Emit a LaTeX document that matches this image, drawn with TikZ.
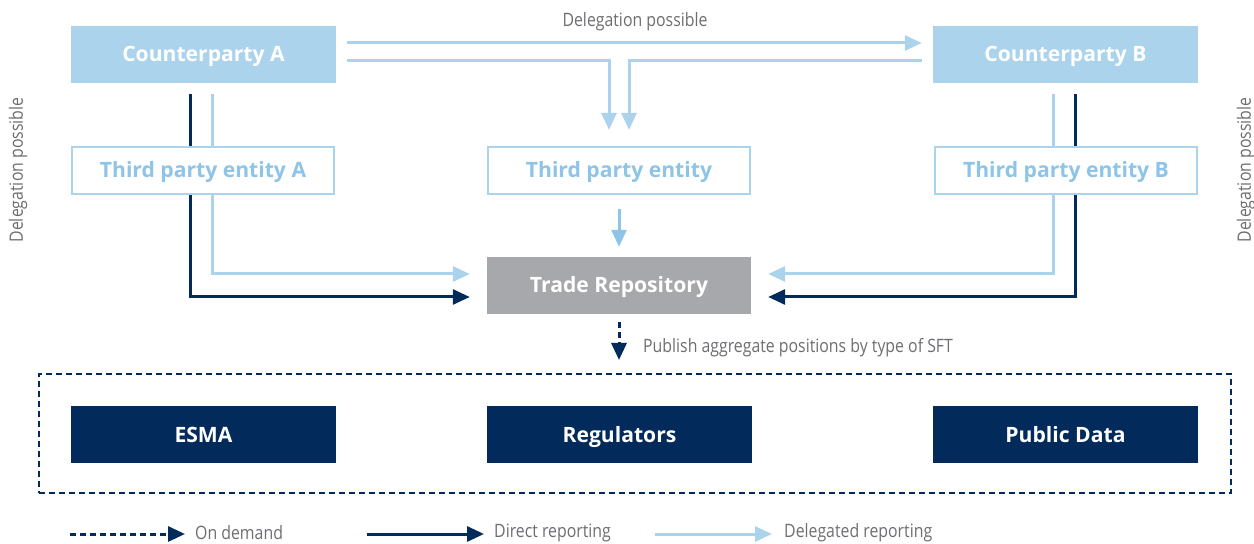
\documentclass[tikz,border=0pt]{standalone}
\usepackage{fontspec}
\setmainfont{Open Sans}
\newfontfamily\cond{Open Sans}[FakeStretch=0.86]
\usetikzlibrary{arrows.meta,backgrounds}
\definecolor{lblue}{HTML}{ABD3EC}
\definecolor{tblue}{HTML}{8DC4E7}
\definecolor{navy}{HTML}{022B5C}
\definecolor{trgray}{HTML}{A7A8AB}
\definecolor{lbl}{HTML}{6D6E71}
\tikzset{
  boxfont/.style={font=\fontsize{21.2}{25}\selectfont\bfseries, text height=15bp, text depth=0bp},
  cpbox/.style={fill=lblue, draw=none, minimum width=265bp, minimum height=57bp, inner sep=0pt, text=white, boxfont},
  tpbox/.style={fill=white, draw=lblue, line width=2.2bp, minimum width=262bp, minimum height=47bp, inner sep=0pt, text=tblue, boxfont},
  trbox/.style={fill=trgray, draw=none, minimum width=264bp, minimum height=57bp, inner sep=0pt, text=white, boxfont},
  navybox/.style={fill=navy, draw=none, minimum width=265bp, minimum height=57bp, inner sep=0pt, text=white, boxfont},
  frame/.style={draw=navy, line width=2bp, dash pattern=on 6bp off 4bp, minimum width=1192bp, minimum height=119bp, inner sep=0pt},
  lab/.style={text=lbl, font=\cond\fontsize{18.5}{22}\selectfont, inner sep=0pt},
  deleg/.style={draw=lblue, line width=3bp, -{Triangle[length=17bp,width=15bp]}},
  delegc/.style={draw=tblue, line width=3bp, -{Triangle[length=17bp,width=15bp]}},
  direct/.style={draw=navy, line width=3bp, -{Triangle[length=17bp,width=15bp]}},
  ondemand/.style={draw=navy, line width=3bp, dash pattern=on 6bp off 4bp, -{Triangle[length=17bp,width=15bp]}},
}
\begin{document}
\begin{tikzpicture}[x=1bp,y=-1bp]
\useasboundingbox (0,0) rectangle (1254,544);
% nodes
\node[cpbox] (ca) at (203.5,54.5) {Counterparty A};
\node[cpbox] (cb) at (1065.5,54.5) {Counterparty B};
\node[tpbox] (tpa) at (203,170.5) {Third party entity A};
\node[tpbox] (tpe) at (619,170.5) {Third party entity};
\node[tpbox] (tpb) at (1066,170.5) {Third party entity B};
\node[trbox] (tr) at (619,285.5) {Trade Repository};
\node[frame] (fr) at (635,433.5) {};
\node[navybox] (esma) at (203.5,434.5) {ESMA};
\node[navybox] (reg) at (619.5,434.5) {Regulators};
\node[navybox] (pub) at (1065.5,434.5) {Public Data};
% labels
\node[lab] (dtop) at (635,22) {Delegation possible};
\node[lab, rotate=90] (dleft) at (18,170) {Delegation possible};
\node[lab, rotate=90] (dright) at (1246,170) {Delegation possible};
\node[lab, anchor=west] (pubtxt) at (643,348) {Publish aggregate positions by type of SFT};
% connector start points
\coordinate (aD) at (190,94);
\coordinate (aL) at (212,94);
\coordinate (bL) at (1053,94);
\coordinate (bD) at (1075,94);
\begin{scope}[on background layer]
\draw[direct, shorten >=17bp] (aD) |- ([yshift=-11.5bp]tr.west);
\draw[deleg, shorten >=17bp]  (aL) |- ([yshift=11.5bp]tr.west);
\draw[deleg, shorten >=17bp]  (bL) |- ([yshift=11.5bp]tr.east);
\draw[direct, shorten >=17bp] (bD) |- ([yshift=-11.5bp]tr.east);
\end{scope}
\draw[deleg, shorten <=11bp, shorten >=11bp] ([yshift=11.5bp]ca.east) -- ([yshift=11.5bp]ca.east -| cb.west);
\draw[deleg, shorten <=11bp, shorten >=16bp] ([yshift=-6.5bp]ca.east) -| ([xshift=-10bp]tpe.north);
\draw[deleg, shorten <=11bp, shorten >=16bp] ([yshift=-6.5bp]cb.west) -| ([xshift=10bp]tpe.north);
\draw[delegc, shorten <=14bp, shorten >=10bp] (tpe.south) -- (tr.north);
\draw[ondemand, shorten <=8bp, shorten >=13bp] (tr.south) -- (tr.south |- fr.north);
% legend
\coordinate (l1a) at (70,534); \coordinate (l1b) at (185,534);
\coordinate (l2a) at (367,534); \coordinate (l2b) at (484,534);
\coordinate (l3a) at (655,534); \coordinate (l3b) at (772,534);
\draw[ondemand] (l1a) -- (l1b);
\draw[direct] (l2a) -- (l2b);
\draw[deleg] (l3a) -- (l3b);
\node[lab, anchor=west] (t1) at (195,533) {On demand};
\node[lab, anchor=west] (t2) at (494,533) {Direct reporting};
\node[lab, anchor=west] (t3) at (784,533) {Delegated reporting};
\end{tikzpicture}
\end{document}
